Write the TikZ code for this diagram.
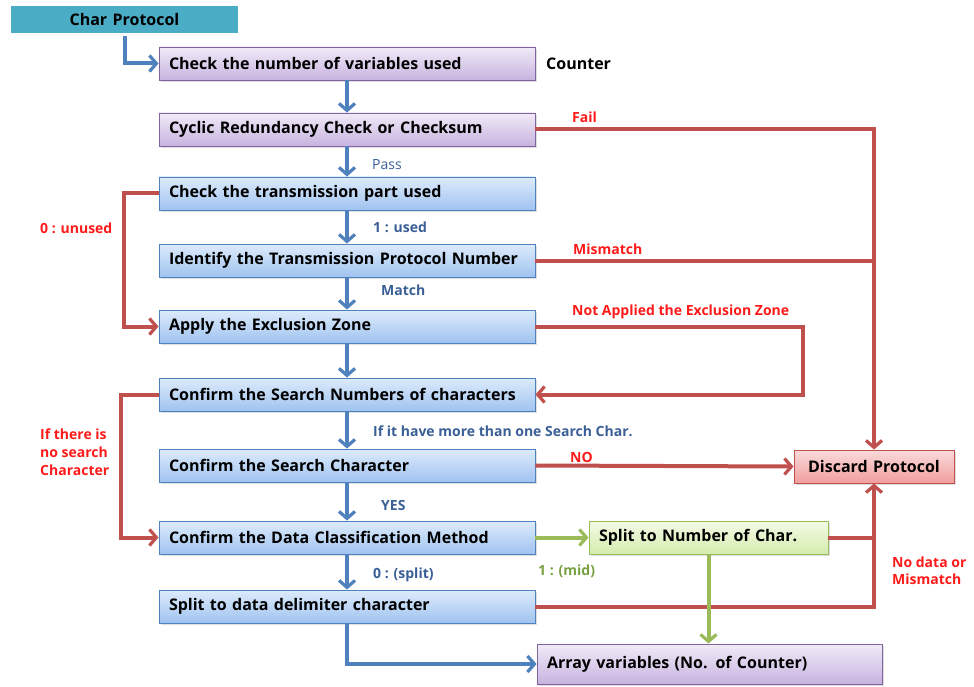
\documentclass[tikz,border=0pt]{standalone}
\usepackage{fontspec}
\setmainfont{Open Sans}
\usetikzlibrary{arrows.meta,shadows}
\definecolor{teal1}{HTML}{4BACC6}
\definecolor{pTop}{HTML}{F1EBF8}
\definecolor{pBot}{HTML}{C7B3DF}
\definecolor{pBrd}{HTML}{8064A2}
\definecolor{bTop}{HTML}{DDEBFB}
\definecolor{bBot}{HTML}{A0C3F0}
\definecolor{bBrd}{HTML}{4F81BD}
\definecolor{gTop}{HTML}{F3FAE6}
\definecolor{gBot}{HTML}{D5ECAE}
\definecolor{gBrd}{HTML}{9BBB59}
\definecolor{rTop}{HTML}{FADADA}
\definecolor{rBot}{HTML}{F19E9E}
\definecolor{rBrd}{HTML}{C0504D}
\definecolor{lnBlue}{HTML}{4F81BD}
\definecolor{lnRed}{HTML}{C0504D}
\definecolor{lnGreen}{HTML}{9BBB59}
\definecolor{txRed}{HTML}{FF1A1A}
\definecolor{txBlue}{HTML}{3A5F97}
\definecolor{txGreen}{HTML}{77A040}
\tikzset{
  boxbase/.style={line width=0.9pt, minimum height=33pt, inner xsep=10pt, inner ysep=0pt,
    font=\bfseries\fontsize{16}{19}\selectfont, text=black,
    drop shadow={opacity=0.25, shadow xshift=1.5pt, shadow yshift=-2pt}},
  stepbox/.style={boxbase, draw=bBrd, top color=bTop, bottom color=bBot, text width=356pt, align=left},
  purplebox/.style={boxbase, draw=pBrd, top color=pTop, bottom color=pBot, text width=356pt, align=left},
  greenbox/.style={boxbase, draw=gBrd, top color=gTop, bottom color=gBot, text width=219pt, align=left},
  redbox/.style={boxbase, draw=rBrd, top color=rTop, bottom color=rBot, text width=140pt, align=center},
  arraybox/.style={boxbase, draw=pBrd, top color=pTop, bottom color=pBot, text width=325pt, align=left, minimum height=40pt},
  startbox/.style={boxbase, draw=white, line width=3pt, fill=teal1, text width=210pt, align=center, minimum height=30pt},
  tip/.style={-{Straight Barb[length=7pt,width=16pt,line width=3.2pt]}},
  bluearr/.style={draw=lnBlue, line width=4pt, tip},
  redline/.style={draw=lnRed, line width=4pt},
  redarr/.style={redline, tip},
  greenarr/.style={draw=lnGreen, line width=4pt, tip},
  lab/.style={font=\bfseries\fontsize{14}{17}\selectfont, anchor=west, inner sep=0pt},
  labred/.style={lab, text=txRed},
  labblue/.style={lab, text=txBlue},
  labgreen/.style={lab, text=txGreen},
}
\begin{document}
\begin{tikzpicture}[x=1pt,y=-1pt]
\useasboundingbox (0,0) rectangle (974,687);
% nodes
\node[startbox] (start) at (124.5,19.5) {Char Protocol};
\node[purplebox] (n1) at (347,63.5) {Check the number of variables used};
\node[purplebox] (crc) at (347,129.5) {Cyclic Redundancy Check or Checksum};
\node[stepbox] (trans) at (347,193.5) {Check the transmission part used};
\node[stepbox] (ident) at (347,260.5) {Identify the Transmission Protocol Number};
\node[stepbox] (apply) at (347,326.5) {Apply the Exclusion Zone};
\node[stepbox] (num) at (347,394.5) {Confirm the Search Numbers of characters};
\node[stepbox] (schar) at (347,465.5) {Confirm the Search Character};
\node[stepbox] (dcm) at (347,537.5) {Confirm the Data Classification Method};
\node[stepbox] (split) at (347,606.5) {Split to data delimiter character};
\node[greenbox] (splitnum) at (708.5,537.5) {Split to Number of Char.};
\node[redbox] (discard) at (874,466.5) {Discard Protocol};
\node[arraybox] (array) at (709.5,664) {Array variables (No. of Counter)};
\coordinate (ap) at (803,326.5);
% blue main flow
\draw[bluearr] (start.south) |- (n1.west);
\draw[bluearr] (n1.south) -- (crc.north);
\draw[bluearr] (crc.south) -- (trans.north);
\draw[bluearr] (trans.south) -- (ident.north);
\draw[bluearr] (ident.south) -- (apply.north);
\draw[bluearr] (apply.south) -- (num.north);
\draw[bluearr] (num.south) -- (schar.north);
\draw[bluearr] (schar.south) -- (dcm.north);
\draw[bluearr] (dcm.south) -- (split.north);
\draw[bluearr] (split.south) |- (array.west);
% red
\draw[redarr] (crc.east) -| (discard.north);
\draw[redline] (ident.east) -- (ident.east -| discard.north);
\draw[redarr] (apply.east) -- (ap) |- (num.east);
\draw[redarr] (trans.west) -- ++(-35,0) |- (apply.west);
\draw[redarr] (num.west) -- ++(-38,0) |- (dcm.west);
\draw[redarr] (schar.east) -- (discard.west);
\draw[redarr] (splitnum.east) -| (discard.south);
\draw[redline] (split.east) -| (splitnum.east -| discard.south);
% green
\draw[greenarr] (dcm.east) -- (splitnum.west);
\draw[greenarr] (splitnum.south) -- (splitnum.south |- array.north);
% labels
\node[lab, font=\bfseries\fontsize{16}{19}\selectfont] (lcounter) at (546,64) {Counter};
\node[labred] (lfail) at (572,117) {Fail};
\node[labred] (lmis) at (573,249) {Mismatch};
\node[labred] (lnot) at (572,312) {Not Applied the Exclusion Zone};
\node[labred] (lunused) at (40,228) {0 : unused};
\node[labred, align=left, font=\bfseries\fontsize{14}{18}\selectfont, anchor=north west] (lnosearch) at (40,429) {If there is\\no search\\Character};
\node[labred] (lno) at (570,457) {NO};
\node[labred, align=left, font=\bfseries\fontsize{14}{17}\selectfont, anchor=north west] (lnodata) at (892,557) {No data or\\Mismatch};
\node[labblue, font=\fontsize{14}{17}\selectfont] (lpass) at (372,165) {Pass};
\node[labblue] (lused) at (373,227) {1 : used};
\node[labblue] (lmatch) at (381,290) {Match};
\node[labblue] (lmore) at (373,431) {If it have more than one Search Char.};
\node[labblue] (lyes) at (381,505) {YES};
\node[labblue] (lsplit) at (373,575) {0 : (split)};
\node[labgreen] (lmid) at (538,571) {1 : (mid)};
\end{tikzpicture}
\end{document}
